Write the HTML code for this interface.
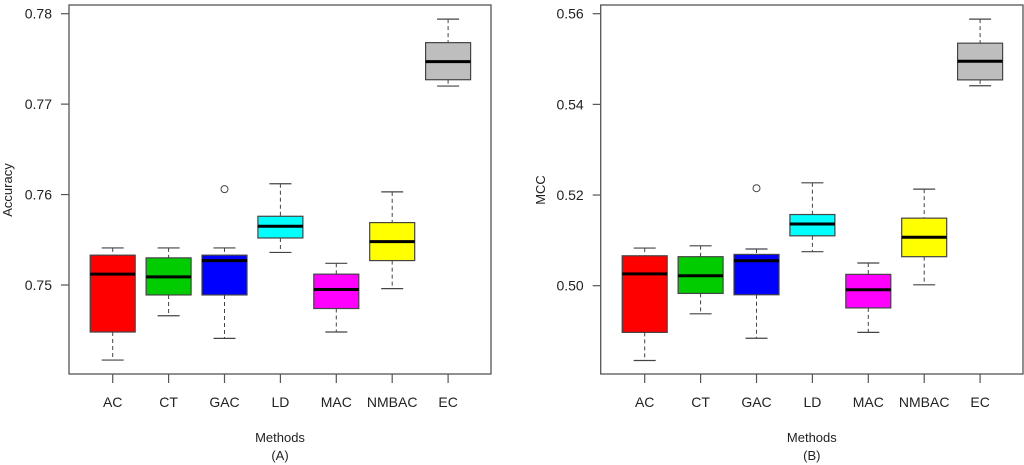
<!DOCTYPE html>
<html><head><meta charset="utf-8"><style>
html,body{margin:0;padding:0;background:#fff;}
svg{display:block;font-family:"Liberation Sans",Arial,sans-serif;}
</style></head><body>
<svg id="chart" width="1024" height="465" viewBox="0 0 1024 465"></svg>
<script>
const categories = ["AC","CT","GAC","LD","MAC","NMBAC","EC"];
const colors = ["#ff0000","#00cc00","#0000ff","#00ffff","#ff00ff","#ffff00","#bebebe"];
// panel A: Accuracy  [lower, q1, median, q3, upper]
const accLower  = [0.7417,0.7466,0.7441,0.7536,0.7448,0.7496,0.7720];
const accQ1     = [0.7448,0.7489,0.7489,0.7552,0.7474,0.7527,0.7727];
const accMedian = [0.7512,0.7509,0.7527,0.7565,0.7495,0.7548,0.7747];
const accQ3     = [0.7533,0.7530,0.7533,0.7576,0.7512,0.7569,0.7768];
const accUpper  = [0.7541,0.7541,0.7541,0.7612,0.7524,0.7603,0.7794];
const accOutliers = [[], [], [0.7606], [], [], [], []];
const accTicks = [0.75,0.76,0.77,0.78];
const accTickLabels = ["0.75","0.76","0.77","0.78"];
// panel B: MCC
const mccLower  = [0.4835,0.4938,0.4884,0.5075,0.4897,0.5002,0.5441];
const mccQ1     = [0.4897,0.4983,0.4980,0.5110,0.4951,0.5064,0.5454];
const mccMedian = [0.5026,0.5022,0.5055,0.5136,0.4991,0.5107,0.5495];
const mccQ3     = [0.5066,0.5064,0.5069,0.5157,0.5025,0.5149,0.5535];
const mccUpper  = [0.5083,0.5088,0.5081,0.5227,0.5050,0.5213,0.5588];
const mccOutliers = [[], [], [0.5215], [], [], [], []];
const mccTicks = [0.50,0.52,0.54,0.56];
const mccTickLabels = ["0.50","0.52","0.54","0.56"];

const NS="http://www.w3.org/2000/svg";
const svg=document.getElementById("chart");
function mk(tag,attrs,parent){const e=document.createElementNS(NS,tag);for(const k in attrs)e.setAttribute(k,attrs[k]);(parent||svg).appendChild(e);return e;}

function panel(p){
  const g=mk("g",{});
  
  
  const yScale=v=>p.y0+(v-p.v0)*(p.y1-p.y0)/(p.v1-p.v0);
  const xScale=i=>p.cx0+i*p.step;
  const frame=mk("rect",{x:p.left,y:5,width:p.right-p.left,height:369,fill:"none",stroke:"#555","stroke-width":1.3},g);
  
  
  p.ticks.forEach((t,i)=>{
    const y=yScale(t);
    const tk=mk("line",{x1:p.left-8,x2:p.left,y1:y,y2:y,stroke:"#555","stroke-width":1.2},g);
    
    
    const tx=mk("text",{x:p.left-17,y:y+5,"text-anchor":"end","font-size":14,fill:"#222"},g);
    tx.textContent=p.tickLabels[i];
    
    
  });
  const yt=mk("text",{x:0,y:0,"text-anchor":"middle","font-size":13,fill:"#222",transform:`translate(${p.ytx},190) rotate(-90)`},g);
  yt.textContent=p.ytitle;
  
  
  categories.forEach((c,i)=>{
    const x=xScale(i);
    const tk=mk("line",{x1:x,x2:x,y1:374,y2:383,stroke:"#555","stroke-width":1.2},g);
    
    
    const tl=mk("text",{x:x,y:407,"text-anchor":"middle","font-size":14,fill:"#222"},g);
    tl.textContent=c;
    
    
    const bg=mk("g",{},g);
    
    
    const yl=yScale(p.lower[i]),y1=yScale(p.q1[i]),ym=yScale(p.med[i]),y3=yScale(p.q3[i]),yu=yScale(p.upper[i]);
    mk("line",{x1:x,x2:x,y1:yu,y2:y3,stroke:"#444","stroke-width":1,"stroke-dasharray":"4,3"},bg);
    mk("line",{x1:x,x2:x,y1:y1,y2:yl,stroke:"#444","stroke-width":1,"stroke-dasharray":"4,3"},bg);
    mk("line",{x1:x-11,x2:x+11,y1:yu,y2:yu,stroke:"#444","stroke-width":1.2},bg);
    mk("line",{x1:x-11,x2:x+11,y1:yl,y2:yl,stroke:"#444","stroke-width":1.2},bg);
    mk("rect",{x:x-22.5,y:y3,width:45,height:y1-y3,fill:colors[i],stroke:"#444","stroke-width":1.2},bg);
    mk("line",{x1:x-22.5,x2:x+22.5,y1:ym,y2:ym,stroke:"#000","stroke-width":3},bg);
    p.out[i].forEach(o=>{
      const c2=mk("circle",{cx:x,cy:yScale(o),r:3.5,fill:"none",stroke:"#444","stroke-width":1},bg);
      
      
    });
  });
  const xt=mk("text",{x:(p.left+p.right)/2,y:442,"text-anchor":"middle","font-size":13,fill:"#222"},g);
  xt.textContent="Methods";
  
  
  const lab=mk("text",{x:(p.left+p.right)/2,y:460,"text-anchor":"middle","font-size":13,fill:"#222"},g);
  lab.textContent=p.label;
  
  
}
panel({name:"accuracy-panel",left:69,right:491,cx0:112.7,step:55.9,y0:285,v0:0.75,y1:13.7,v1:0.78,
  ticks:accTicks,tickLabels:accTickLabels,ytitle:"Accuracy",ytx:12,label:"(A)",
  lower:accLower,q1:accQ1,med:accMedian,q3:accQ3,upper:accUpper,out:accOutliers});
panel({name:"mcc-panel",left:600.7,right:1023,cx0:644.7,step:55.9,y0:285.7,v0:0.50,y1:13.7,v1:0.56,
  ticks:mccTicks,tickLabels:mccTickLabels,ytitle:"MCC",ytx:545,label:"(B)",
  lower:mccLower,q1:mccQ1,med:mccMedian,q3:mccQ3,upper:mccUpper,out:mccOutliers});
</script>
</body></html>
